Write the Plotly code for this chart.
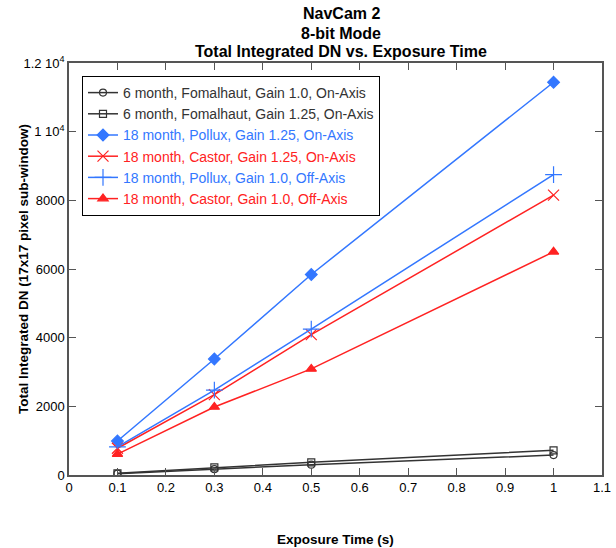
import plotly.graph_objects as go

exposure = [0.1, 0.3, 0.5, 1.0]
fomalhaut_g10 = [40, 170, 300, 580]
fomalhaut_g125 = [50, 220, 370, 720]
pollux_g125 = [990, 3380, 5840, 11440]
castor_g125 = [780, 2340, 4090, 8150]
pollux_g10_off = [820, 2470, 4250, 8750]
castor_g10_off = [610, 1980, 3090, 6500]

names = [
    "6 month, Fomalhaut, Gain 1.0, On-Axis",
    "6 month, Fomalhaut, Gain 1.25, On-Axis",
    "18 month, Pollux, Gain 1.25, On-Axis",
    "18 month, Castor, Gain 1.25, On-Axis",
    "18 month, Pollux, Gain 1.0, Off-Axis",
    "18 month, Castor, Gain 1.0, Off-Axis",
]
series = [fomalhaut_g10, fomalhaut_g125, pollux_g125, castor_g125, pollux_g10_off, castor_g10_off]

title_lines = ["NavCam 2", "8-bit Mode", "Total Integrated DN vs. Exposure Time"]
x_title = "Exposure Time (s)"
y_title = "Total Integrated DN (17x17 pixel sub-window)"

xticks = [0, 0.1, 0.2, 0.3, 0.4, 0.5, 0.6, 0.7, 0.8, 0.9, 1.0, 1.1]
xticklabels = ["0", "0.1", "0.2", "0.3", "0.4", "0.5", "0.6", "0.7", "0.8", "0.9", "1", "1.1"]
yticks = [0, 2000, 4000, 6000, 8000, 10000, 12000]
yticklabels = ["0", "2000", "4000", "6000", "8000", "1 10<sup>4</sup>", "1.2 10<sup>4</sup>"]

BLACK = "#333333"
BLUE = "#3377ff"
RED = "#ff2222"
colors = [BLACK, BLACK, BLUE, RED, BLUE, RED]
symbols = ["circle-open", "square-open", "diamond", "x-thin-open", "cross-thin-open", "triangle-up"]
sizes = [7, 7, 9, 11, 12, 9]

fig = go.Figure()
for name, vals, c, s, sz in zip(names, series, colors, symbols, sizes):
    fig.add_trace(go.Scatter(
        x=exposure, y=vals, mode="lines+markers",
        name=f"<span style='color:{c}'>{name}</span>",
        line=dict(color=c, width=1.5),
        marker=dict(symbol=s, size=sz, color=c, line=dict(color=c, width=1.2)),
    ))

FONT = "Liberation Sans, Arial, sans-serif"
W, H = 616, 548
L, R, T, B = 69, 14, 63, 73
plot_h = H - T - B
plot_w = W - L - R


def py(p):
    return (H - B - p) / plot_h


def px(p):
    return (p - L) / plot_w


annotations = []
for line, ypix in zip(title_lines, [14, 33, 52]):
    annotations.append(dict(
        text=f"<b>{line}</b>", xref="paper", yref="paper", x=px(341), y=py(ypix),
        xanchor="center", yanchor="middle", showarrow=False,
        font=dict(size=16, family=FONT, color="black"),
    ))
annotations.append(dict(
    text=f"<b>{x_title}</b>", xref="paper", yref="paper", x=px(335), y=py(539),
    xanchor="center", yanchor="middle", showarrow=False,
    font=dict(size=13.5, family=FONT, color="black"),
))
annotations.append(dict(
    text=f"<b>{y_title}</b>", xref="paper", yref="paper", x=px(23), y=0.5,
    xanchor="center", yanchor="middle", showarrow=False, textangle=-90,
    font=dict(size=13.5, family=FONT, color="black"),
))

fig.update_layout(
    width=W, height=H,
    margin=dict(l=L, r=R, t=T, b=B),
    paper_bgcolor="white", plot_bgcolor="white",
    font=dict(family=FONT, size=13, color="black"),
    showlegend=True,
    annotations=annotations,
    legend=dict(
        x=px(82), y=py(76), xanchor="left", yanchor="top",
        bgcolor="white", bordercolor="black", borderwidth=1,
        font=dict(size=14, family=FONT),
        tracegroupgap=0,
    ),
    xaxis=dict(
        range=[0, 1.1], tickvals=xticks, ticktext=xticklabels, automargin=False,
        showgrid=False, zeroline=False, showline=True, linecolor="#555555", linewidth=1.5,
        mirror="ticks", ticks="inside", ticklen=7, tickcolor="#555555",
        tickfont=dict(size=13, family=FONT, color="black"),
    ),
    yaxis=dict(
        range=[0, 12000], tickvals=yticks, ticktext=yticklabels, automargin=False,
        showgrid=False, zeroline=False, showline=True, linecolor="#555555", linewidth=1.5,
        mirror="ticks", ticks="inside", ticklen=7, tickcolor="#555555",
        tickfont=dict(size=13, family=FONT, color="black"),
    ),
)

fig.write_html(
    "out.html",
    config={"displayModeBar": False},
    post_script="document.body.style.margin='0';document.body.style.overflow='hidden';",
)
